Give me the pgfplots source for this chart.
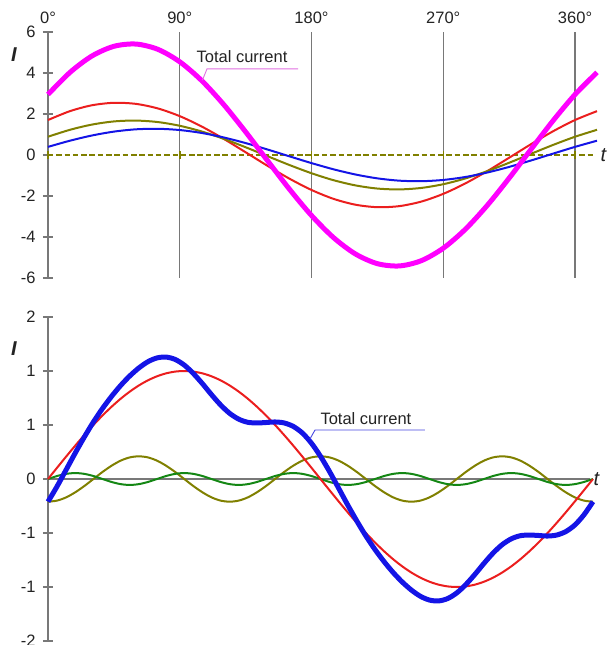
\documentclass[border=0pt]{standalone}
\usepackage{pgfplots}
\pgfplotsset{compat=1.18}
\usepackage{pgfplotstable}
\usepackage{fontspec}
\setmainfont{Liberation Sans}
\definecolor{cMag}{RGB}{255,0,255}
\definecolor{cMagL}{RGB}{225,110,225}
\definecolor{cRed}{RGB}{235,30,30}
\definecolor{cOlive}{RGB}{128,128,0}
\definecolor{cBlue}{RGB}{20,20,230}
\definecolor{cBlueL}{RGB}{70,70,225}
\definecolor{cGreen}{RGB}{20,135,20}
\definecolor{cGray}{RGB}{120,120,120}
\definecolor{cText}{RGB}{35,35,35}

% top panel: theta, magenta, red, olive, blue
\pgfplotstableread{
t mag red olive blue
0 2.952 1.706 0.890 0.396
15 4.028 2.139 1.229 0.697
30 4.829 2.425 1.483 0.951
45 5.301 2.546 1.637 1.140
60 5.412 2.494 1.679 1.252
75 5.155 2.272 1.607 1.278
90 4.546 1.895 1.425 1.217
105 3.627 1.389 1.146 1.074
120 2.461 0.788 0.789 0.856
135 1.127 0.133 0.378 0.581
150 -0.283 -0.530 -0.059 0.266
165 -1.675 -1.158 -0.491 -0.067
180 -2.952 -1.706 -0.890 -0.396
195 -4.028 -2.139 -1.229 -0.697
210 -4.829 -2.425 -1.483 -0.951
225 -5.301 -2.546 -1.637 -1.140
240 -5.412 -2.494 -1.679 -1.252
255 -5.155 -2.272 -1.607 -1.278
270 -4.546 -1.895 -1.425 -1.217
285 -3.627 -1.389 -1.146 -1.074
300 -2.461 -0.788 -0.789 -0.856
315 -1.127 -0.133 -0.378 -0.581
330 0.283 0.530 0.059 -0.266
345 1.675 1.158 0.491 0.067
360 2.952 1.706 0.890 0.396
375 4.028 2.139 1.229 0.697
}\toptable

% bottom panel: theta, red, olive, green, blue (total)
\pgfplotstableread{
t red olive green blue
0 0 -0.210 0 -0.210
6 0.1045 -0.200 0.0275 -0.068
12 0.2079 -0.170 0.0476 0.086
18 0.3090 -0.123 0.0550 0.241
24 0.4067 -0.065 0.0476 0.389
30 0.5000 0 0.0275 0.528
36 0.5878 0.065 0 0.653
42 0.6691 0.123 -0.0275 0.765
48 0.7431 0.170 -0.0476 0.866
54 0.8090 0.200 -0.0550 0.954
60 0.8660 0.210 -0.0476 1.028
66 0.9135 0.200 -0.0275 1.086
72 0.9511 0.170 0 1.121
78 0.9781 0.123 0.0275 1.129
84 0.9945 0.065 0.0476 1.107
90 1 0 0.0550 1.055
96 0.9945 -0.065 0.0476 0.977
102 0.9781 -0.123 0.0275 0.883
108 0.9511 -0.170 0 0.781
114 0.9135 -0.200 -0.0275 0.686
120 0.8660 -0.210 -0.0476 0.608
126 0.8090 -0.200 -0.0550 0.554
132 0.7431 -0.170 -0.0476 0.525
138 0.6691 -0.123 -0.0275 0.519
144 0.5878 -0.065 0 0.523
150 0.5 0 0.0275 0.528
156 0.4067 0.065 0.0476 0.519
162 0.3090 0.123 0.0550 0.487
168 0.2079 0.170 0.0476 0.426
174 0.1045 0.200 0.0275 0.332
180 0 0.210 0 0.210
186 -0.1045 0.200 -0.0275 0.068
192 -0.2079 0.170 -0.0476 -0.086
198 -0.3090 0.123 -0.0550 -0.241
204 -0.4067 0.065 -0.0476 -0.389
210 -0.5 0 -0.0275 -0.528
216 -0.5878 -0.065 0 -0.653
222 -0.6691 -0.123 0.0275 -0.765
228 -0.7431 -0.170 0.0476 -0.866
234 -0.8090 -0.200 0.0550 -0.954
240 -0.8660 -0.210 0.0476 -1.028
246 -0.9135 -0.200 0.0275 -1.086
252 -0.9511 -0.170 0 -1.121
258 -0.9781 -0.123 -0.0275 -1.129
264 -0.9945 -0.065 -0.0476 -1.107
270 -1 0 -0.0550 -1.055
276 -0.9945 0.065 -0.0476 -0.977
282 -0.9781 0.123 -0.0275 -0.883
288 -0.9511 0.170 0 -0.781
294 -0.9135 0.200 0.0275 -0.686
300 -0.8660 0.210 0.0476 -0.608
306 -0.8090 0.200 0.0550 -0.554
312 -0.7431 0.170 0.0476 -0.525
318 -0.6691 0.123 0.0275 -0.519
324 -0.5878 0.065 0 -0.523
330 -0.5 0 -0.0275 -0.528
336 -0.4067 -0.065 -0.0476 -0.519
342 -0.3090 -0.123 -0.0550 -0.487
348 -0.2079 -0.170 -0.0476 -0.426
354 -0.1045 -0.200 -0.0275 -0.332
360 0 -0.210 0 -0.210
}\bottable

\begin{document}
\begin{tikzpicture}[x=1pt,y=1pt]
\path[use as bounding box] (0,0) rectangle (608,645);

% ---------------- top panel ----------------
\begin{axis}[
  at={(48pt,367pt)}, anchor=south west,
  scale only axis, width=549pt, height=246pt,
  xmin=0, xmax=375, ymin=-6, ymax=6,
  clip=false,
  axis y line*=left, axis x line*=top,
  x axis line style={draw=none},
  y axis line style={cGray, line width=1.3pt},
  xtick={0,90,180,270,360}, xticklabels={0°,90°,180°,270°,360°},
  ytick={-6,-4,-2,0,2,4,6}, yticklabels={-6,-4,-2,0,2,4,6},
  major x tick style={draw=none},
  major y tick style={cGray, line width=1.3pt},
  tick align=center, major tick length=10pt,
  xmajorgrids, major grid style={cGray, line width=1.3pt},
  tick label style={font=\fontsize{16.5}{19}\selectfont, text=cText},
  yticklabel style={xshift=-4pt},
]
\addplot[cOlive, line width=2pt, dash pattern=on 5.5pt off 2.8pt] coordinates {(0,0) (374,0)};
\addplot[cOlive, only marks, mark=|, mark size=4pt, mark options={line width=1.5pt}] coordinates {(0,0) (90,0) (180,0) (270,0) (360,0)};
\addplot[cRed, line width=2pt, smooth] table[x=t, y=red] {\toptable};
\addplot[cOlive, line width=2pt, smooth] table[x=t, y=olive] {\toptable};
\addplot[cBlue, line width=2pt, smooth] table[x=t, y=blue] {\toptable};
\addplot[cMag, line width=5pt, smooth] table[x=t, y=mag] {\toptable};
\draw[cMagL, line width=0.9pt] (axis cs:105.5,3.65) -- (axis cs:108.6,4.2) -- (axis cs:170.8,4.2);
\node[text=cText, font=\fontsize{16.5}{19}\selectfont] at (axis cs:132.5,4.8) {Total current};
\node[text=cText, font=\fontsize{20}{24}\selectfont\itshape, anchor=west] at (axis cs:375,0) {t};
\node[text=cText, font=\fontsize{20}{24}\selectfont\bfseries\itshape] at (axis cs:0,4.9) [xshift=-34pt] {I};
\end{axis}

% ---------------- bottom panel ----------------
\begin{axis}[
  at={(48pt,4pt)}, anchor=south west,
  scale only axis, width=545pt, height=324pt,
  xmin=0, xmax=360, ymin=-1.5, ymax=1.5,
  clip=false,
  axis y line*=left, axis x line=none,
  y axis line style={cGray, line width=1.3pt},
  ytick={-1.5,-1,-0.5,0,0.5,1,1.5}, yticklabels={-2,-1,-1,0,1,1,2},
  major y tick style={cGray, line width=1.3pt},
  tick align=center, major tick length=10pt,
  tick label style={font=\fontsize{16.5}{19}\selectfont, text=cText},
  yticklabel style={xshift=-4pt},
]
\draw[cGray, line width=1.3pt] (axis cs:0,0) -- (axis cs:358,0);
\addplot[cOlive, line width=2pt, smooth] table[x=t, y=olive] {\bottable};
\addplot[cGreen, line width=2pt, smooth] table[x=t, y=green] {\bottable};
\addplot[cRed, line width=2pt, smooth] table[x=t, y=red] {\bottable};
\addplot[cBlue, line width=5pt, smooth] table[x=t, y=blue] {\bottable};
\draw[cBlueL, line width=0.9pt] (axis cs:173,0.37) -- (axis cs:176.4,0.454) -- (axis cs:249,0.454);
\node[text=cText, font=\fontsize{16.5}{19}\selectfont] at (axis cs:210,0.56) {Total current};
\node[text=cText, font=\fontsize{20}{24}\selectfont\itshape, anchor=west] at (axis cs:358,0) {t};
\node[text=cText, font=\fontsize{20}{24}\selectfont\bfseries\itshape] at (axis cs:0,1.21) [xshift=-34pt] {I};
\end{axis}
\end{tikzpicture}
\end{document}
